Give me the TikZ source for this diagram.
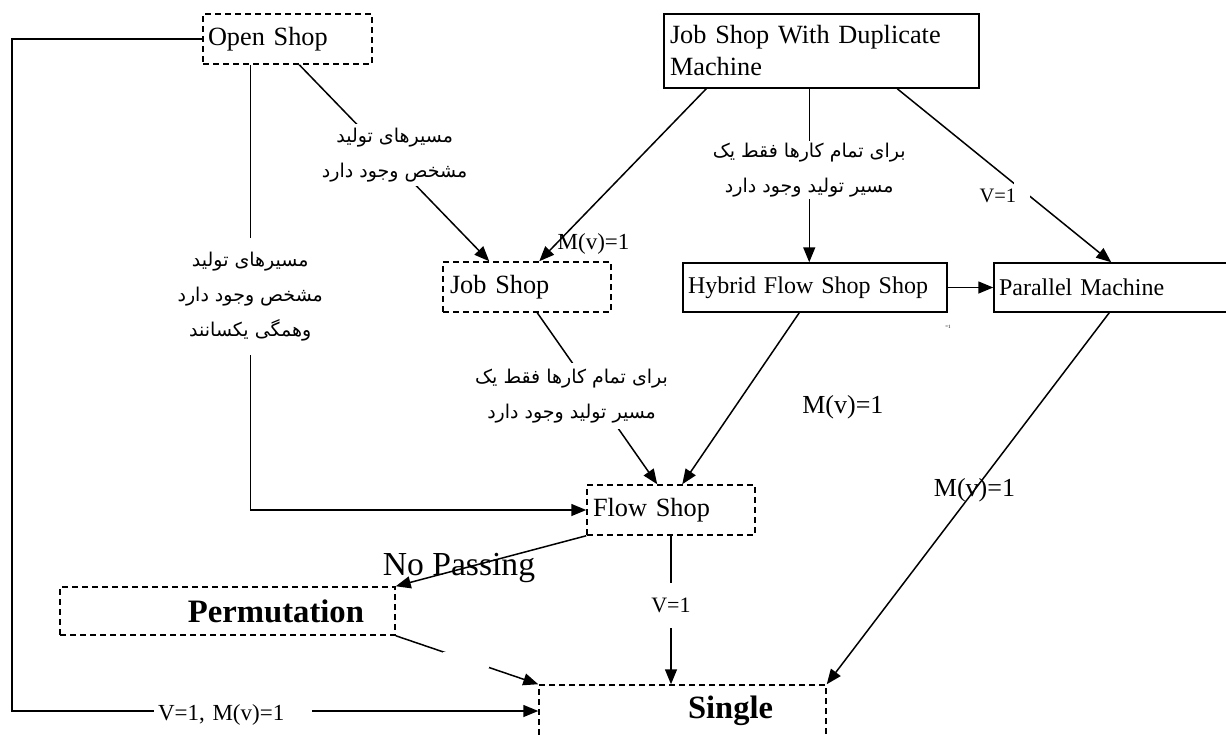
\documentclass[tikz,border=0pt]{standalone}
\usepackage{fontspec}
\setmainfont{Liberation Serif}
\newfontfamily\farsi[Script=Arabic]{DejaVu Sans}
\TeXXeTstate=1
\usetikzlibrary{arrows.meta,calc}
\newcommand{\fa}[1]{{\farsi\beginR #1\endR}}

\begin{document}
\begin{tikzpicture}[x=1pt,y=-1pt,
    line width=1.5pt,
    arr/.style={-{Triangle[length=15pt,width=12pt]}},
    sbox/.style={draw, rectangle, inner ysep=0pt, align=left,
      font=\fontsize{26.3}{32}\selectfont},
    dbox/.style={sbox, dash pattern=on 6pt off 4pt},
    lbl/.style={font=\fontsize{23}{26}\selectfont, inner sep=1pt},
    falbl/.style={font=\fontsize{19}{35}\selectfont, align=center, fill=white},
    gapnode/.style={fill=white, inner sep=0pt, minimum width=#1, minimum height=16pt}]
  \useasboundingbox (0,0) rectangle (1226,734);

  % boxes
  \node[dbox, text width=159pt, inner xsep=5pt, minimum width=169pt, minimum height=50pt]
    (open) at (287.5,39) {Open Shop};
  \node[sbox, text width=303pt, inner xsep=6pt, minimum width=315pt, minimum height=74pt]
    (dup) at (821.5,51) {Job Shop With Duplicate\\Machine};
  \node[dbox, text width=154pt, inner xsep=7pt, minimum width=168pt, minimum height=50pt]
    (job) at (527,287) {Job Shop};
  \node[sbox, font=\fontsize{24}{28}\selectfont, text width=254pt, inner xsep=5pt,
    minimum width=264pt, minimum height=49pt] (hybrid) at (815,287.5) {Hybrid Flow Shop Shop};
  \node[sbox, font=\fontsize{24}{28}\selectfont, text width=226pt, inner xsep=5pt,
    minimum width=236pt, minimum height=49pt] (parallel) at (1112,287.5) {Parallel Machine};
  \node[dbox, text width=156pt, inner xsep=6pt, minimum width=168pt, minimum height=50pt]
    (flow) at (671,510) {Flow Shop};
  \node[dbox, font=\fontsize{32.7}{36}\selectfont\bfseries, align=right, text width=273pt,
    inner xsep=31pt, minimum width=335pt, minimum height=48pt] (perm) at (227.5,611) {Permutation};
  \node[dbox, font=\fontsize{32.5}{36}\selectfont\bfseries, align=right, text width=181pt,
    inner xsep=53pt, minimum width=287pt, minimum height=52pt] (single) at (682.5,711) {Single};

  % loose labels
  \node[font=\fontsize{33.6}{36}\selectfont, inner sep=0pt] (nopass) at (459,568) {No Passing};
  \node[font=\fontsize{5}{6}\selectfont, inner sep=0pt] (tinyone) at (948,327) {=1};

  % connectors
  \coordinate (oscorner) at (12,39);
  \draw[arr] (open.west) -- (oscorner) |- node[pos=0.71, lbl, fill=white, text width=150pt,
    align=left, inner xsep=4pt, yshift=-4pt] {V=1, M(v)=1} (single.west);
  \draw[arr] ($(open.south west)+(48,0)$) |- node[pos=0.26, falbl, inner ysep=14pt]
    {\fa{مسیرهای تولید}\\\fa{مشخص وجود دارد}\\\fa{وهمگی یکسانند}} (flow.west);
  \draw[arr] ($(open.south west)+(97,0)$) -- node[pos=0.46, falbl, xshift=8pt, inner ysep=4pt]
    {\fa{مسیرهای تولید}\\\fa{مشخص وجود دارد}} ($(job.north west)+(47,0)$);
  \draw[arr] ($(dup.south west)+(43,0)$) -- node[pos=0.9, lbl, anchor=west] {M(v)=1}
    ($(job.north west)+(97,0)$);
  \draw[arr] ($(dup.south west)+(146,0)$) -- node[pos=0.47, falbl, inner ysep=2pt]
    {\fa{برای تمام کارها فقط یک}\\\fa{مسیر تولید وجود دارد}} ($(hybrid.north west)+(127,0)$);
  \draw[arr] ($(dup.south west)+(234,0)$) -- node[pos=0.585, gapnode=16pt] {}
    node[pos=0.62, lbl, font=\fontsize{20.5}{24}\selectfont, anchor=east, xshift=-12pt] {V=1}
    ($(parallel.north west)+(118,0)$);
  \draw[arr] (hybrid.east) -- (parallel.west);
  \draw[arr] ($(job.south west)+(95,0)$) -- node[pos=0.486, falbl, xshift=-24pt, inner ysep=6pt]
    {\fa{برای تمام کارها فقط یک}\\\fa{مسیر تولید وجود دارد}} ($(flow.north west)+(71,0)$);
  \draw[arr] ($(hybrid.south west)+(117,0)$) -- node[pos=0.55, lbl, xshift=108pt,
    font=\fontsize{26}{28}\selectfont] {M(v)=1} ($(flow.north west)+(96,0)$);
  \draw[arr] ($(parallel.south west)+(116,0)$) -- node[pos=0.477, lbl,
    font=\fontsize{26}{28}\selectfont] {M(v)=1} (single.north east);
  \draw[arr] (flow.south) -- node[pos=0.47, lbl, fill=white, inner ysep=15pt,
    font=\fontsize{22}{24}\selectfont] {V=1} (flow.south |- single.north);
  \draw[arr] (flow.south west) -- (perm.north east);
  \draw[arr] (perm.south east) -- node[pos=0.49, gapnode=46pt] {} (single.north west);
\end{tikzpicture}
\end{document}
